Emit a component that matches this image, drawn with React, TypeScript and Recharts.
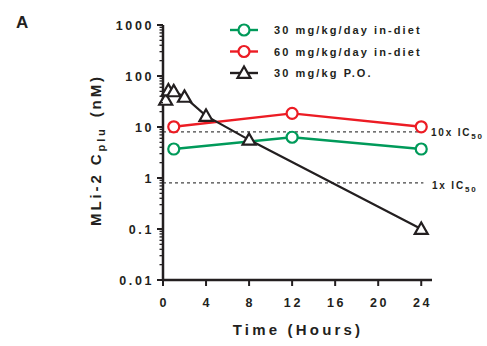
import React from "react";
import {
  LineChart,
  Line,
  XAxis,
  YAxis,
  ReferenceLine,
  Legend,
  Customized,
} from "recharts";

const times = [0.25, 0.5, 1, 2, 4, 8, 12, 24];
const diet30 = [null, null, 3.7, null, null, null, 6.3, 3.7];
const diet60 = [null, null, 10.1, null, null, null, 18.5, 10.1];
const po30 = [34, 52, 50, 39, 16.5, 5.6, null, 0.1];

const xTicks = [0, 4, 8, 12, 16, 20, 24];
const decades = [0.01, 0.1, 1, 10, 100, 1000];
const ic50 = 0.8;

const seriesNames = ["30 mg/kg/day in-diet", "60 mg/kg/day in-diet", "30 mg/kg P.O."];

const GREEN = "#009a5a";
const RED = "#ec1c24";
const BLACK = "#231f20";
const FONT = "'Liberation Sans', Arial, sans-serif";

const data = times.map((t, i) => ({
  t,
  diet30: diet30[i],
  diet60: diet60[i],
  po30: po30[i],
}));

// decade ticks plus 2..9 minor ticks, last decade has no minors
const yTicks: number[] = [];
decades.forEach((d, i) => {
  yTicks.push(d);
  if (i < decades.length - 1) {
    for (let k = 2; k <= 9; k++) yTicks.push(+(d * k).toPrecision(3));
  }
});

function YTick(props: any) {
  const { x, y, payload } = props;
  const major = decades.includes(payload.value);
  return (
    <g>
      <line x1={x} x2={x - (major ? 6 : 3.5)} y1={y} y2={y} stroke={BLACK} strokeWidth={major ? 2 : 1.3} />
      {major && (
        <text
          x={x - 9}
          y={y}
          dy={4.5}
          textAnchor="end"
          fontFamily={FONT}
          fontWeight="bold"
          fontSize={12.5}
          letterSpacing={2.6}
          fill={BLACK}
        >
          {String(payload.value)}
        </text>
      )}
    </g>
  );
}

function XTick(props: any) {
  const { x, y, payload } = props;
  return (
    <g>
      <line x1={x} x2={x} y1={y} y2={y + 6} stroke={BLACK} strokeWidth={2} />
      <text
        x={x + 1.3}
        y={y + 27}
        textAnchor="middle"
        fontFamily={FONT}
        fontWeight="bold"
        fontSize={12.5}
        letterSpacing={2.6}
        fill={BLACK}
      >
        {payload.value}
      </text>
    </g>
  );
}

function Circle(color: string) {
  return (props: any) => {
    const { cx, cy, index } = props;
    if (cx == null || cy == null) return <g key={index} />;
    return <circle key={index} cx={cx} cy={cy} r={5.5} fill="#fff" stroke={color} strokeWidth={2.2} />;
  };
}

function Tri(props: any) {
  const { cx, cy, index } = props;
  if (cx == null || cy == null) return <g key={index} />;
  const s = 6.5;
  return (
    <polygon
      key={index}
      points={`${cx},${cy - s} ${cx - s},${cy + s * 0.75} ${cx + s},${cy + s * 0.75}`}
      fill="#fff"
      stroke={BLACK}
      strokeWidth={2.2}
      strokeLinejoin="miter"
    />
  );
}

function LegendBox() {
  const rows = [
    { name: seriesNames[0], color: GREEN, shape: "circle" },
    { name: seriesNames[1], color: RED, shape: "circle" },
    { name: seriesNames[2], color: BLACK, shape: "tri" },
  ];
  return (
    <svg width={230} height={70}>
      {rows.map((r, i) => {
        const y = 10 + i * 21.5;
        return (
          <g key={r.name}>
            <line x1={2} x2={30} y1={y} y2={y} stroke={r.color} strokeWidth={2.4} />
            {r.shape === "circle" ? (
              <circle cx={16} cy={y} r={5.5} fill="#fff" stroke={r.color} strokeWidth={2.2} />
            ) : (
              <polygon
                points={`16,${y - 6.5} 9.5,${y + 4.9} 22.5,${y + 4.9}`}
                fill="#fff"
                stroke={BLACK}
                strokeWidth={2.2}
              />
            )}
            <text
              x={46}
              y={y + 4}
              fontFamily={FONT}
              fontWeight="bold"
              fontSize={11}
              letterSpacing={2.1}
              fill={BLACK}
            >
              {r.name}
            </text>
          </g>
        );
      })}
    </svg>
  );
}

function Annotations() {
  return (
    <g fontFamily={FONT} fontWeight="bold" fill={BLACK}>
      <text x={16} y={28} fontSize={17}>A</text>
      <text
        transform="translate(101,150) rotate(-90)"
        textAnchor="middle"
        fontSize={15}
        letterSpacing={2.9}
      >
        MLi-2 C
        <tspan fontSize={11} dy={4}>plu</tspan>
        <tspan dy={-4} dx={9}>(nM)</tspan>
      </text>
      <text x={298} y={335} textAnchor="middle" fontSize={15} letterSpacing={3.2}>
        Time (Hours)
      </text>
      <text x={431} y={136} fontSize={10} letterSpacing={1.8}>
        10x IC<tspan fontSize={8} dy={3}>50</tspan>
      </text>
      <text x={432} y={189} fontSize={10} letterSpacing={1.8}>
        1x IC<tspan fontSize={8} dy={3}>50</tspan>
      </text>
    </g>
  );
}

export default function App() {
  return (
    <div style={{ position: "absolute", left: 0, top: 0, background: "#fff" }}>
      <LineChart
        width={487}
        height={346}
        data={data}
        margin={{ top: 25, right: 55, bottom: 26, left: 0 }}
      >
        <XAxis
          dataKey="t"
          type="number"
          domain={[0, 25]}
          ticks={xTicks}
          interval={0}
          tickSize={0}
          tickMargin={0}
          tick={<XTick />}
          axisLine={{ stroke: BLACK, strokeWidth: 2.5 }}
          tickLine={false}
          height={40}
        />
        <YAxis
          scale="log"
          domain={[0.01, 1000]}
          ticks={yTicks}
          interval={0}
          allowDataOverflow
          tickSize={0}
          tickMargin={0}
          tick={<YTick />}
          axisLine={{ stroke: BLACK, strokeWidth: 2.5 }}
          tickLine={false}
          width={163}
        />
        <ReferenceLine
          segment={[{ x: 0, y: ic50 * 10 }, { x: 24.2, y: ic50 * 10 }]}
          stroke="#444"
          strokeWidth={1.2}
          strokeDasharray="3 3"
        />
        <ReferenceLine
          segment={[{ x: 0, y: ic50 }, { x: 24.2, y: ic50 }]}
          stroke="#444"
          strokeWidth={1.2}
          strokeDasharray="3 3"
        />
        <Line
          dataKey="diet60"
          name={seriesNames[1]}
          stroke={RED}
          strokeWidth={2.4}
          connectNulls
          dot={Circle(RED)}
          isAnimationActive={false}
        />
        <Line
          dataKey="diet30"
          name={seriesNames[0]}
          stroke={GREEN}
          strokeWidth={2.4}
          connectNulls
          dot={Circle(GREEN)}
          isAnimationActive={false}
        />
        <Line
          dataKey="po30"
          name={seriesNames[2]}
          stroke={BLACK}
          strokeWidth={2.2}
          connectNulls
          dot={Tri}
          isAnimationActive={false}
        />
        <Legend
          layout="horizontal"
          verticalAlign="middle"
          align="center"
          content={() => <LegendBox />}
          wrapperStyle={{ position: "absolute", left: 228, top: 20, width: 230 }}
        />
        <Customized component={Annotations} />
      </LineChart>
    </div>
  );
}
